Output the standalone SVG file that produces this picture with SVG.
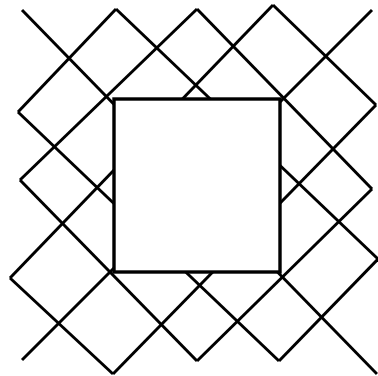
<svg xmlns="http://www.w3.org/2000/svg" width="378" height="376" viewBox="0 0 378 376">
  <style>
    .ln { stroke: #000; stroke-width: 3; fill: none; stroke-linecap: butt; stroke-linejoin: miter; }
    .sq { stroke: #000; stroke-width: 3.4; fill: #fff; }
  </style>
  <rect x="0" y="0" width="378" height="376" fill="#fff"/>
  <g id="lattice">
    <!-- down-right lines -->
    <line class="ln" x1="273" y1="5" x2="376" y2="105"/>
    <line class="ln" x1="197" y1="9" x2="372" y2="189"/>
    <line class="ln" x1="116" y1="9" x2="378" y2="259"/>
    <line class="ln" x1="22" y1="10" x2="377" y2="374"/>
    <line class="ln" x1="18" y1="112" x2="279" y2="361"/>
    <line class="ln" x1="20" y1="180" x2="197" y2="361"/>
    <line class="ln" x1="10" y1="278" x2="113" y2="374"/>
    <!-- up-right lines -->
    <line class="ln" x1="18" y1="112" x2="116" y2="9"/>
    <line class="ln" x1="20" y1="180" x2="197" y2="9"/>
    <line class="ln" x1="10" y1="278" x2="273" y2="5"/>
    <line class="ln" x1="22" y1="360" x2="372" y2="10"/>
    <line class="ln" x1="113" y1="374" x2="376" y2="105"/>
    <line class="ln" x1="197" y1="361" x2="372" y2="189"/>
    <line class="ln" x1="279" y1="361" x2="378" y2="259"/>
  </g>
  <g id="square">
    <rect class="sq" x="114" y="99" width="166" height="173"/>
  </g>
</svg>
